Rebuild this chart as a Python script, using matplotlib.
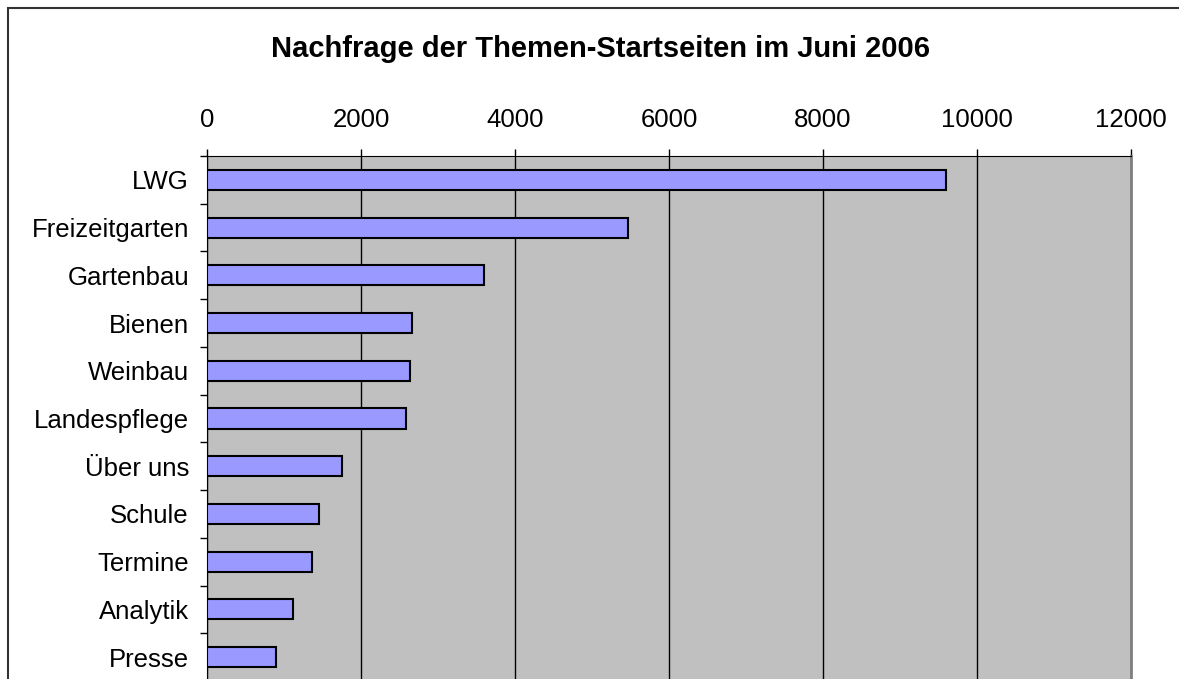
import matplotlib.pyplot as plt
from matplotlib.patches import Rectangle

# Data
categories = ['LWG', 'Freizeitgarten', 'Gartenbau', 'Bienen', 'Weinbau',
              'Landespflege', 'Über uns', 'Schule', 'Termine', 'Analytik', 'Presse']
values = [9594, 5472, 3602, 2658, 2632, 2580, 1753, 1450, 1359, 1121, 900]
x_ticks = [0, 2000, 4000, 6000, 8000, 10000, 12000]

plt.rcParams['font.family'] = ['Liberation Sans', 'DejaVu Sans']

W, H = 1179, 679
fig = plt.figure(figsize=(W / 100, H / 100), dpi=100)

# Outer chart border (right and bottom run past the picture)
fig.patches.append(Rectangle((8 / W, -0.1), 1.2, 1 - 8 / H + 0.1,
                             transform=fig.transFigure, fill=False,
                             edgecolor='#333333', linewidth=1.5, zorder=0))

ax = fig.add_axes([207 / W, -2 / H, 924 / W, (679 - 156 + 2) / H])
ax.set_facecolor('#C0C0C0')

pos = list(range(len(categories)))
ax.barh(pos, values, height=0.42, color='#9999FF', edgecolor='black',
        linewidth=1.5, zorder=3)

ax.set_xlim(0, 12000)
ax.set_ylim(len(categories) - 0.5, -0.5)
ax.set_xticks(x_ticks)
ax.xaxis.tick_top()
ax.tick_params(axis='x', labelsize=18.5, length=5, width=1, pad=12,
               colors='black')
ax.set_yticks(pos)
ax.set_yticklabels(categories)
ax.set_yticks([p - 0.5 for p in pos] + [len(categories) - 0.5], minor=True)
ax.tick_params(axis='y', which='major', length=0, labelsize=18.5, pad=13)
ax.tick_params(axis='y', which='minor', length=5, width=1)

ax.grid(axis='x', color='black', linewidth=1, zorder=1)
ax.set_axisbelow(True)

ax.spines['left'].set_color('black')
ax.spines['top'].set_color('black')
ax.spines['right'].set_color('#808080')
ax.spines['right'].set_linewidth(2)
ax.spines['bottom'].set_visible(False)

fig.text(601 / W, 1 - 49 / H, 'Nachfrage der Themen-Startseiten im Juni 2006',
         ha='center', va='center', fontsize=21, fontweight='bold')

fig.savefig('out.png', dpi=100)
